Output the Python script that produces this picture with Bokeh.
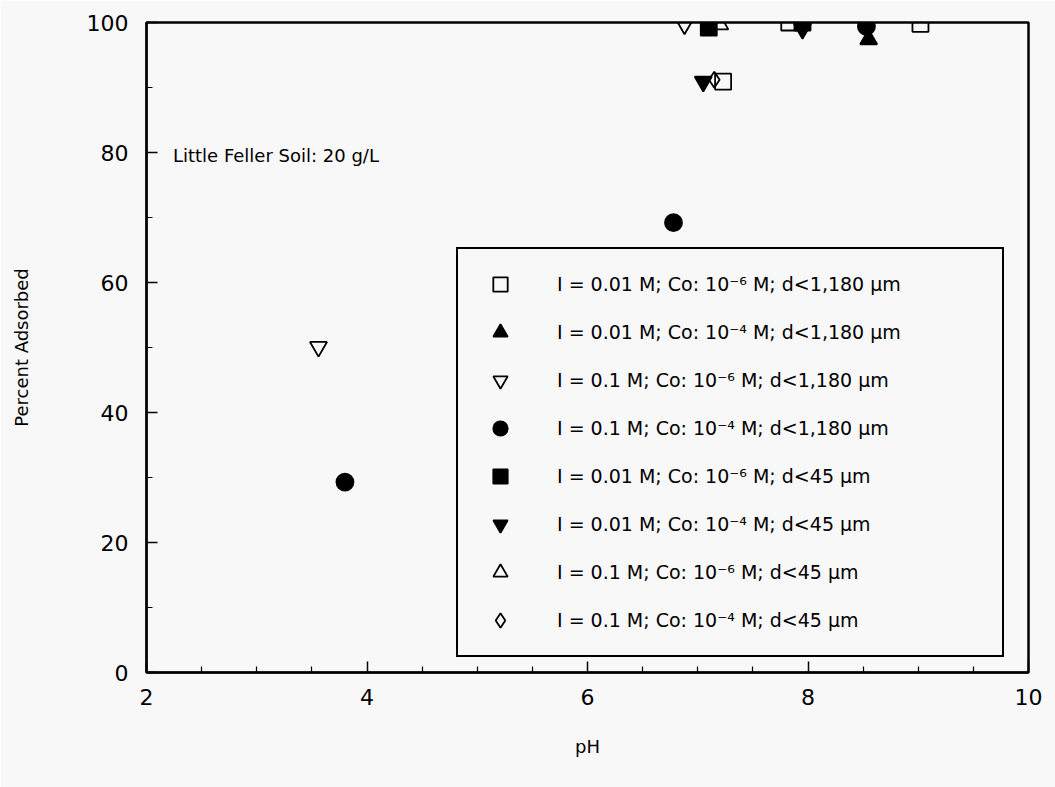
from bokeh.plotting import figure
from bokeh.models import Legend, LegendItem, Label, FixedTicker, ColumnDataSource
from bokeh.embed import file_html
from bokeh.resources import INLINE

# ---- data ----
labels = [
    "I = 0.01 M; Co: 10\u207b\u2076 M; d<1,180 \u03bcm",
    "I = 0.01 M; Co: 10\u207b\u2074 M; d<1,180 \u03bcm",
    "I = 0.1 M; Co: 10\u207b\u2076 M; d<1,180 \u03bcm",
    "I = 0.1 M; Co: 10\u207b\u2074 M; d<1,180 \u03bcm",
    "I = 0.01 M; Co: 10\u207b\u2076 M; d<45 \u03bcm",
    "I = 0.01 M; Co: 10\u207b\u2074 M; d<45 \u03bcm",
    "I = 0.1 M; Co: 10\u207b\u2076 M; d<45 \u03bcm",
    "I = 0.1 M; Co: 10\u207b\u2074 M; d<45 \u03bcm",
]
s1_ph = [7.83, 9.02, 7.23]
s1_y = [100.0, 99.8, 90.9]
s2_ph = [8.55]
s2_y = [97.4]
s3_ph = [3.56, 6.88, 8.52]
s3_y = [50.1, 99.7, 100.4]
s4_ph = [3.80, 6.78, 8.53]
s4_y = [29.3, 69.2, 99.4]
s5_ph = [7.10, 7.95]
s5_y = [99.2, 100.0]
s6_ph = [7.05, 7.95]
s6_y = [90.9, 99.0]
s7_ph = [7.20]
s7_y = [99.7]
s8_ph = [7.15, 7.95]
s8_y = [91.2, 99.6]

x_ticks = [2, 4, 6, 8, 10]
y_ticks = [0, 20, 40, 60, 80, 100]
x_minor = [2.5, 3, 3.5, 4.5, 5, 5.5, 6.5, 7, 7.5, 8.5, 9, 9.5]
y_minor = [10, 30, 50, 70, 90]

FONT = "DejaVu Sans"
BG = "#f8f8f8"

p = figure(width=1055, height=787, x_range=(2, 10), y_range=(0, 100),
           output_backend="svg", toolbar_location=None,
           background_fill_color=BG, border_fill_color=BG,
           min_border_left=146, min_border_right=27, min_border_top=22, min_border_bottom=115)
p.grid.visible = False
p.outline_line_color = "black"
p.outline_line_width = 2.5
p.outline_line_alpha = 1.0

for ax in (p.xaxis[0], p.yaxis[0]):
    ax.axis_line_width = 2
    ax.major_tick_in = 11
    ax.major_tick_out = 0
    ax.minor_tick_in = 6
    ax.minor_tick_out = 0
    ax.major_tick_line_width = 1.5
    ax.minor_tick_line_width = 1.2
    ax.major_label_text_font = FONT
    ax.major_label_text_font_size = "22px"
    ax.major_label_text_color = "black"
    ax.axis_label_text_font = FONT
    ax.axis_label_text_font_size = "18px"
    ax.axis_label_text_font_style = "normal"
    ax.axis_label_text_color = "black"

p.xaxis.ticker = FixedTicker(ticks=x_ticks, minor_ticks=x_minor)
p.yaxis.ticker = FixedTicker(ticks=y_ticks, minor_ticks=y_minor)
p.xaxis.axis_label = "pH"
p.yaxis.axis_label = "Percent Adsorbed"
p.xaxis.major_label_standoff = 16
p.yaxis.major_label_standoff = 18
p.xaxis.axis_label_standoff = 28
p.yaxis.axis_label_standoff = 52

specs = [
    (s1_ph, s1_y, "square", "none", 16),
    (s2_ph, s2_y, "triangle", "black", 17),
    (s3_ph, s3_y, "inverted_triangle", "none", 17),
    (s4_ph, s4_y, "circle", "black", 17),
    (s5_ph, s5_y, "square", "black", 16),
    (s6_ph, s6_y, "inverted_triangle", "black", 17),
    (s7_ph, s7_y, "triangle", "none", 17),
    (s8_ph, s8_y, "diamond", "none", 16),
]
items = []
for (xs, ys, mk, fc, sz), lab in zip(specs, labels):
    src = ColumnDataSource(dict(x=xs, y=ys))
    r = p.scatter("x", "y", source=src, marker=mk, size=sz, fill_color=fc,
                  line_color="black", line_width=1.8)
    items.append(LegendItem(label=lab, renderers=[r]))

legend = Legend(items=items, location=(310, 15), orientation="vertical",
                glyph_width=50, glyph_height=36, label_height=36, spacing=12,
                padding=17, label_standoff=32, margin=0, label_width=428,
                label_text_font=FONT, label_text_font_size="19px",
                label_text_color="black",
                border_line_color="black", border_line_width=2,
                border_line_alpha=1.0,
                background_fill_color=BG, background_fill_alpha=1.0)
p.add_layout(legend, "center")

p.add_layout(Label(x=2.24, y=79.5, text="Little Feller Soil:  20 g/L",
                   text_font=FONT, text_font_size="18px", text_color="black",
                   text_baseline="middle"))

open("out.html", "w").write(file_html(p, INLINE))
